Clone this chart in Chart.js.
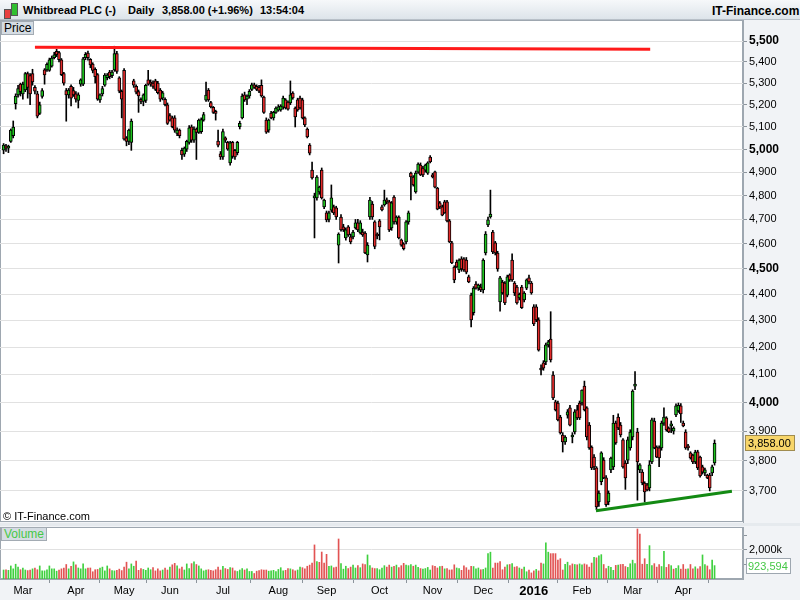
<!DOCTYPE html>
<html>
<head>
<meta charset="utf-8">
<script src="https://cdn.jsdelivr.net/npm/chart.js@4.4.1/dist/chart.umd.min.js"></script>
<style>
  body { margin: 0; width: 800px; height: 600px; overflow: hidden; position: relative;
         background: #e6eaee; font-family: "Liberation Sans", Arial, sans-serif; }
  .abs { position: absolute; white-space: pre; }
  #header { left: 0; top: 0; width: 800px; height: 20px;
            background: linear-gradient(#f6f8fa, #dde4ea); border-bottom: 1px solid #b8c0c8; box-sizing: border-box; }
  .hd { font-weight: bold; font-size: 11px; top: 4px; color: #000; }
  .tag { font-size: 12px; background: #d5dce3; border: 1px solid #a3abb3; padding: 0 2px; line-height: 12px; }
  canvas { position: absolute; left: 0; }
</style>
</head>
<body>
<div id="header" class="abs"></div>
<div class="abs" style="left:4px;top:9px;width:5px;height:8px;background:#e84040;border:1px solid #555"></div>
<div class="abs" style="left:11px;top:3px;width:5px;height:11px;background:#30c030;border:1px solid #555"></div>
<span class="abs hd" style="left:23px">Whitbread PLC (-)</span>
<span class="abs hd" style="left:128px">Daily</span>
<span class="abs hd" style="left:162px">3,858.00 (+1.96%)</span>
<span class="abs hd" style="left:260px">13:54:04</span>
<span class="abs hd" style="left:712px;font-size:12px">IT-Finance.com</span>

<canvas id="price" width="800" height="503" style="top:20px"></canvas>
<canvas id="volume" width="800" height="74" style="top:526px"></canvas>

<span class="abs tag" style="left:1px;top:21px;color:#000">Price</span>
<span class="abs" style="left:3px;top:510px;font-size:11px;color:#000">© IT-Finance.com</span>
<span class="abs tag" style="left:1px;top:527px;color:#46c846">Volume</span>

<script>
// daily candles, 18 Feb 2015 - 20 Apr 2016, one row per month
const opens = [
  4996,5015,5005,5035,5060,5205,5245,5295,
  5250,5268,5345,5335,5345,5280,5250,5160,5238,5362,5362,5360,5380,5420,5450,5445,5410,5345,5265,5245,5285,5265,
  5250,5220,5295,5295,5420,5442,5412,5390,5365,5340,5222,5250,5290,5325,5352,5335,5362,5440,5325,5262,
  5360,5050,5035,5030,5310,5285,5260,5225,5215,5220,5315,5305,5300,5310,5300,5268,5230,5225,5200,
  5150,5140,5140,5070,5085,4995,4978,5000,5030,5100,5040,5090,5075,5078,5130,5221,5268,5210,5188,5170,5036,4980,
  4966,5050,5030,4940,5030,4995,4985,5100,5140,5245,5225,5240,5270,5292,5285,5280,5290,5235,5130,5085,5162,5140,5165,
  5175,5176,5189,5222,5212,5208,5254,5185,5222,5231,5222,5140,5090,5018,4909,4790,4790,4815,4909,4752,
  4727,4700,4739,4752,4748,4595,4710,4669,4624,4669,4628,4628,4665,4686,4644,4648,4644,4555,4710,4764,4690,4640,
  4694,4752,4760,4781,4773,4665,4794,4690,4710,4616,4600,4608,4690,4896,4879,4815,4900,4931,4918,4909,4896,4966,
  4888,4901,4832,4769,4752,4773,4773,4694,4604,4507,4527,4495,4540,4540,4535,4468,4397,4329,4440,4424,4428,
  4417,4563,4677,4710,4648,4604,4563,4370,4448,4444,4397,4476,4535,4444,4428,4386,4428,4378,4424,4464,4444,
  4352,4352,4302,4120,4142,4145,4208,4230,4098,4002,3998,3949,3887,3863,3955,3981,3880,3897,3974,3998,
  3998,4058,3981,3921,3846,3812,3776,3664,3730,3802,3743,3664,3769,3779,3928,3949,3921,3870,3792,3802,3843,
  3880,4058,3897,3769,3762,3726,3720,3710,3796,3935,3846,3843,3843,3928,3946,3911,3918,3900,3956,3970,3988,
  3928,3897,3850,3826,3819,3796,3830,3812,3779,3759,3752,3752,3759,3792
];
const highs = [
  5025,5022,5018,5090,5126,5250,5290,5300,
  5305,5350,5352,5345,5365,5288,5262,5212,5275,5368,5395,5418,5428,5446,5460,5450,5416,5350,5275,5275,5292,5280,
  5260,5255,5320,5422,5445,5452,5416,5396,5372,5345,5250,5285,5345,5345,5360,5360,5475,5450,5330,5268,
  5368,5056,5090,5135,5318,5292,5268,5232,5250,5295,5360,5315,5310,5318,5308,5275,5262,5232,5208,
  5160,5148,5150,5095,5090,5005,5010,5040,5105,5108,5100,5095,5135,5140,5165,5305,5275,5215,5192,5175,5085,4990,
  5090,5055,5035,5035,5035,5000,5035,5125,5250,5258,5245,5270,5300,5300,5292,5290,5315,5240,5140,5135,5170,5170,5190,
  5200,5200,5240,5228,5218,5310,5260,5190,5230,5240,5230,5145,5095,5025,4944,4810,4885,4840,4918,4785,
  4735,4735,4845,4760,4755,4645,4720,4680,4665,4675,4640,4655,4700,4700,4695,4660,4650,4605,4792,4775,4695,4645,
  4700,4760,4823,4790,4780,4775,4800,4715,4715,4620,4605,4695,4735,4900,4885,4905,4940,4940,4925,4935,4945,4972,
  4895,4905,4835,4775,4760,4780,4780,4700,4610,4512,4535,4540,4548,4545,4545,4475,4405,4430,4450,4440,4440,
  4540,4650,4710,4823,4655,4610,4570,4470,4455,4450,4475,4480,4560,4450,4435,4405,4435,4410,4460,4475,4450,
  4360,4360,4310,4135,4150,4215,4225,4333,4110,4008,4005,3955,3895,3885,3975,3990,3895,3975,3990,4005,
  4045,4076,3985,3930,3850,3820,3780,3700,3830,3810,3750,3700,3812,3955,3935,3960,3930,3875,3800,3880,3905,
  4045,4110,3910,3790,3770,3730,3725,3800,3945,3945,3850,3850,3935,3981,3950,3915,3935,3915,3995,3998,3996,
  3935,3905,3855,3830,3822,3835,3835,3815,3785,3775,3755,3758,3785,3870
];
const lows = [
  4980,4990,4985,5030,5050,5180,5235,5240,
  5225,5260,5230,5200,5290,5250,5140,5155,5230,5295,5355,5355,5375,5414,5425,5400,5335,5290,5125,5230,5195,5238,
  5212,5185,5285,5288,5410,5408,5372,5348,5300,5220,5210,5240,5285,5315,5320,5325,5355,5345,5255,5140,
  5040,5015,5020,4995,5280,5250,5165,5205,5195,5210,5290,5285,5275,5265,5250,5215,5222,5195,5110,
  5125,5095,5075,5060,5050,4955,4968,4990,5022,5030,5030,4955,5070,5070,5125,5215,5215,5185,5160,5130,5010,4955,
  4955,5030,4995,4930,4960,4955,4975,5090,5135,5215,5200,5230,5265,5275,5265,5255,5235,5160,5070,5075,5135,5130,5160,
  5170,5170,5180,5180,5175,5200,5225,5099,5170,5180,5135,5100,5050,4975,4870,4624,4780,4805,4785,4745,
  4690,4690,4730,4720,4700,4523,4652,4650,4615,4630,4600,4620,4660,4650,4640,4630,4560,4527,4700,4700,4580,4620,
  4616,4735,4755,4765,4650,4655,4680,4680,4620,4590,4575,4600,4680,4781,4840,4810,4895,4885,4880,4900,4890,4940,
  4875,4832,4740,4745,4715,4725,4690,4605,4520,4445,4505,4485,4490,4490,4480,4445,4275,4320,4420,4415,4410,
  4405,4555,4670,4705,4560,4555,4490,4335,4400,4360,4390,4450,4450,4395,4362,4378,4345,4370,4418,4440,4400,
  4280,4295,4185,4098,4115,4135,4200,4145,4010,3970,3935,3890,3829,3855,3945,3918,3860,3890,3940,3940,
  3990,3970,3870,3838,3770,3770,3640,3650,3720,3740,3650,3655,3760,3770,3855,3905,3880,3775,3705,3790,3835,
  3870,4045,3670,3760,3720,3664,3700,3700,3790,3840,3810,3780,3835,3920,3900,3895,3895,3890,3950,3965,3930,
  3915,3838,3835,3805,3790,3790,3770,3745,3755,3750,3740,3700,3750,3785
];
const closes = [
  5018,5005,5010,5085,5098,5240,5275,5260,
  5295,5345,5280,5250,5305,5262,5148,5200,5265,5338,5388,5410,5418,5434,5435,5410,5340,5300,5245,5268,5230,5245,
  5225,5245,5315,5415,5436,5420,5385,5360,5330,5225,5245,5275,5338,5338,5330,5352,5440,5355,5262,5225,
  5045,5035,5085,5125,5290,5258,5240,5215,5245,5290,5295,5295,5285,5270,5255,5225,5255,5200,5115,
  5130,5100,5085,5085,5060,4975,5005,5035,5095,5040,5090,5075,5130,5132,5155,5244,5222,5190,5165,5160,5018,4966,
  5078,5040,5000,5028,4968,4966,5030,5115,5240,5222,5240,5262,5292,5280,5270,5262,5240,5165,5076,5130,5140,5165,5185,
  5190,5194,5231,5185,5180,5245,5231,5144,5176,5185,5140,5108,5054,4983,4875,4795,4879,4836,4790,4781,
  4698,4727,4790,4727,4710,4640,4657,4657,4657,4636,4608,4648,4686,4657,4686,4636,4563,4595,4781,4710,4590,4632,
  4669,4740,4781,4773,4657,4769,4690,4710,4624,4595,4580,4690,4727,4879,4845,4896,4935,4888,4888,4931,4940,4944,
  4879,4836,4743,4752,4718,4727,4694,4608,4523,4456,4507,4535,4499,4495,4487,4448,4302,4424,4424,4436,4417,
  4535,4640,4698,4722,4567,4563,4499,4464,4405,4367,4468,4456,4456,4405,4367,4400,4348,4405,4456,4448,4405,
  4287,4302,4189,4116,4123,4208,4219,4153,4016,3974,3939,3894,3863,3880,3967,3921,3887,3967,3946,3946,
  4044,3974,3880,3843,3776,3779,3648,3693,3826,3743,3655,3693,3809,3928,3860,3911,3887,3779,3743,3870,3897,
  4040,4062,3796,3786,3726,3697,3703,3786,3939,3843,3812,3809,3928,3949,3904,3897,3921,3911,3988,3990,3960,
  3918,3843,3843,3809,3796,3829,3776,3749,3762,3769,3743,3710,3779,3858
];
// volume in thousands of shares
const volumes = [
  620,640,600,900,700,1020,820,640,
  760,620,580,620,700,760,640,900,560,560,640,900,700,700,540,620,700,760,1000,700,880,1180,
  980,760,700,1040,700,760,760,500,640,660,760,820,560,900,700,580,560,600,680,580,
  820,1160,700,1040,880,1240,600,720,660,600,760,640,780,560,700,560,620,760,620,
  820,980,1080,900,700,820,620,1040,720,1060,1180,1000,900,700,560,620,640,600,560,640,820,620,
  880,720,660,780,760,560,520,620,720,620,700,520,520,380,540,580,640,620,620,540,560,600,520,
  660,780,560,600,720,700,640,560,620,820,780,700,880,960,1100,2350,1200,1150,1860,1100,
  1700,880,900,780,820,2760,1060,680,880,720,820,960,760,920,780,1040,1000,1660,920,760,720,720,
  640,760,920,820,960,820,880,960,780,920,1080,960,920,1000,880,960,800,720,680,720,800,620,
  920,880,760,860,880,700,720,620,640,980,760,720,600,900,780,620,880,860,700,760,640,
  660,760,1750,1850,760,1100,1100,1200,640,820,980,1000,1060,820,860,760,680,820,500,620,420,
  560,660,560,1100,1040,2500,1850,1750,1750,1750,1300,1400,620,1020,1160,920,1040,1000,980,1040,
  980,1040,980,820,1100,1500,1460,1600,1680,1000,720,880,800,600,940,960,1000,1020,860,800,1050,
  1300,1060,3450,3100,1020,1400,1020,2300,920,1060,820,1000,860,1900,800,1000,920,680,740,920,680,
  1000,680,700,1000,700,840,700,860,1660,1000,900,640,1300,923.594
];

// first trading day of each month (candle index) and its label
const monthStarts = [8, 30, 50, 69, 91, 114, 134, 156, 178, 199, 220, 240, 261, 282];
const monthLabels = ["Mar", "Apr", "May", "Jun", "Jul", "Aug", "Sep", "Oct", "Nov", "Dec", "2016", "Feb", "Mar", "Apr"];

const priceTicks = [3700, 3800, 3900, 4000, 4100, 4200, 4300, 4400, 4500, 4600, 4700, 4800, 4900, 5000, 5100, 5200, 5300, 5400, 5500];
const boldTicks = [4000, 4500, 5000, 5500];
const volumeTicks = [1000000, 2000000, 3000000];

// drawn trend lines (candle index, price)
const resistance = [{ x: 13, y: 5470 }, { x: 268.3, y: 5460 }];
const support = [{ x: 245.8, y: 3636 }, { x: 302.2, y: 3699 }];

const GREEN = "#1fc31f", RED = "#e32b2b";
const VGREEN = "#3fd03f", VRED = "#e25353";
const AXIS_BG = "#f1f3f6", PANEL_LINE = "#9ea7b0";

const X_MIN = -1.49, X_MAX = 306.8;
const idx = closes.map((_, i) => i);

const fmt = (v) => v.toLocaleString("en-US");

// white plot area + border, axis zone filled grey
const panelBg = {
  id: "panelBg",
  beforeDraw(chart) {
    const { ctx, chartArea: a, width, height } = chart;
    ctx.save();
    ctx.fillStyle = AXIS_BG;
    ctx.fillRect(0, 0, width, height);
    ctx.fillStyle = "#fff";
    ctx.fillRect(a.left, a.top, a.right - a.left, a.bottom - a.top);
    ctx.strokeStyle = PANEL_LINE;
    ctx.lineWidth = 1;
    ctx.strokeRect(a.left + 0.5, a.top + 0.5, a.right - a.left - 1, a.bottom - a.top - 1);
    ctx.restore();
  }
};

const lastPriceBox = {
  id: "lastPriceBox",
  afterDraw(chart) {
    const { ctx, chartArea: a } = chart;
    const last = closes[closes.length - 1];
    const y = Math.round(chart.scales.y.getPixelForValue(last));
    ctx.save();
    ctx.fillStyle = "#f7d56a";
    ctx.fillRect(a.right + 2, y - 8, 50, 16);
    ctx.strokeStyle = "#a08c50";
    ctx.strokeRect(a.right + 2.5, y - 7.5, 49, 15);
    ctx.fillStyle = "#000";
    ctx.font = "11px 'Liberation Sans', Arial, sans-serif";
    ctx.textBaseline = "middle";
    ctx.fillText(last.toLocaleString("en-US", { minimumFractionDigits: 2 }), a.right + 5, y + 0.5);
    ctx.restore();
  }
};

new Chart(document.getElementById("price"), {
  type: "bar",
  data: {
    datasets: [
      {
        type: "line",
        data: resistance,
        borderColor: "#ff1a1a",
        borderWidth: 3,
        pointRadius: 0,
        order: 0
      },
      {
        type: "line",
        data: support,
        borderColor: "#138a13",
        borderWidth: 3,
        pointRadius: 0,
        order: 0
      },
      {
        data: idx.map((i) => ({ x: i, y: [opens[i], closes[i]] })),
        backgroundColor: idx.map((i) => (closes[i] >= opens[i] ? GREEN : RED)),
        borderColor: "#000",
        borderWidth: 1,
        borderSkipped: false,
        barThickness: 3,
        minBarLength: 2,
        grouped: false,
        order: 1
      },
      {
        data: idx.map((i) => ({ x: i, y: [lows[i], highs[i]] })),
        backgroundColor: "#000",
        barThickness: 1,
        grouped: false,
        order: 2
      }
    ]
  },
  options: {
    responsive: false,
    animation: false,
    events: [],
    layout: { padding: { left: 0, right: 0, top: 0, bottom: 1 } },
    plugins: { legend: { display: false }, tooltip: { enabled: false } },
    scales: {
      x: { type: "linear", min: X_MIN, max: X_MAX, offset: false, display: false },
      y: {
        type: "logarithmic",
        position: "right",
        min: 3600,
        max: 5603,
        afterBuildTicks: (s) => { s.ticks = priceTicks.map((v) => ({ value: v })); },
        afterFit: (s) => { s.width = 57; s.paddingTop = 0; s.paddingBottom = 0; },
        ticks: {
          autoSkip: false,
          padding: 2,
          color: "#000",
          callback: (v) => fmt(v),
          font: (c) => (c.tick && boldTicks.includes(c.tick.value)
            ? { family: "'Liberation Sans', Arial", size: 12, weight: "bold" }
            : { family: "'Liberation Sans', Arial", size: 11 })
        },
        grid: { color: "#e1e1e1", tickLength: 4, tickColor: "#8c949c" },
        border: { color: PANEL_LINE }
      }
    }
  },
  plugins: [panelBg, lastPriceBox]
});

const lastVolumeBox = {
  id: "lastVolumeBox",
  afterDraw(chart) {
    const { ctx, chartArea: a } = chart;
    const v = volumes[volumes.length - 1] * 1000;
    const y = Math.round(chart.scales.y.getPixelForValue(v));
    ctx.save();
    ctx.fillStyle = "#fff";
    ctx.fillRect(a.right + 3, y - 8, 45, 16);
    ctx.strokeStyle = "#9ea7b0";
    ctx.strokeRect(a.right + 3.5, y - 7.5, 44, 15);
    ctx.fillStyle = "#46c846";
    ctx.font = "11px 'Liberation Sans', Arial, sans-serif";
    ctx.textBaseline = "middle";
    ctx.fillText(fmt(Math.round(v)), a.right + 5, y + 0.5);
    ctx.restore();
  }
};

new Chart(document.getElementById("volume"), {
  type: "bar",
  data: {
    datasets: [{
      data: idx.map((i) => ({ x: i, y: volumes[i] * 1000 })),
      backgroundColor: idx.map((i) => (i > 0 && closes[i] < closes[i - 1] ? VRED : VGREEN)),
      barThickness: 1,
      grouped: false
    }]
  },
  options: {
    responsive: false,
    animation: false,
    events: [],
    layout: { padding: { left: 0, right: 0, top: 1, bottom: 0 } },
    plugins: { legend: { display: false }, tooltip: { enabled: false } },
    scales: {
      x: {
        type: "linear",
        min: X_MIN,
        max: X_MAX,
        offset: false,
        afterBuildTicks: (s) => { s.ticks = monthStarts.map((v) => ({ value: v })); },
        afterFit: (s) => { s.height = 21; s.paddingLeft = 0; s.paddingRight = 0; },
        ticks: {
          autoSkip: false,
          maxRotation: 0,
          padding: 1,
          color: "#000",
          callback: (v) => monthLabels[monthStarts.indexOf(v)],
          font: (c) => (c.tick && c.tick.value === 220
            ? { family: "'Liberation Sans', Arial", size: 13, weight: "bold" }
            : { family: "'Liberation Sans', Arial", size: 11 })
        },
        grid: { drawOnChartArea: false, tickLength: 4, tickColor: "#8c949c" },
        border: { color: PANEL_LINE }
      },
      y: {
        position: "right",
        min: 0,
        max: 3586000,
        afterBuildTicks: (s) => { s.ticks = volumeTicks.map((v) => ({ value: v })); },
        afterFit: (s) => { s.width = 57; s.paddingTop = 0; s.paddingBottom = 0; },
        ticks: {
          autoSkip: false,
          padding: 2,
          color: "#000",
          font: { family: "'Liberation Sans', Arial", size: 11 },
          callback: (v) => (v === 2000000 ? "2,000k" : "")
        },
        grid: {
          color: (c) => (c.tick && c.tick.value === 2000000 ? "#e1e1e1" : "rgba(0,0,0,0)"),
          tickLength: 4,
          tickColor: "#8c949c"
        },
        border: { color: PANEL_LINE }
      }
    }
  },
  plugins: [panelBg, lastVolumeBox]
});
</script>
</body>
</html>
